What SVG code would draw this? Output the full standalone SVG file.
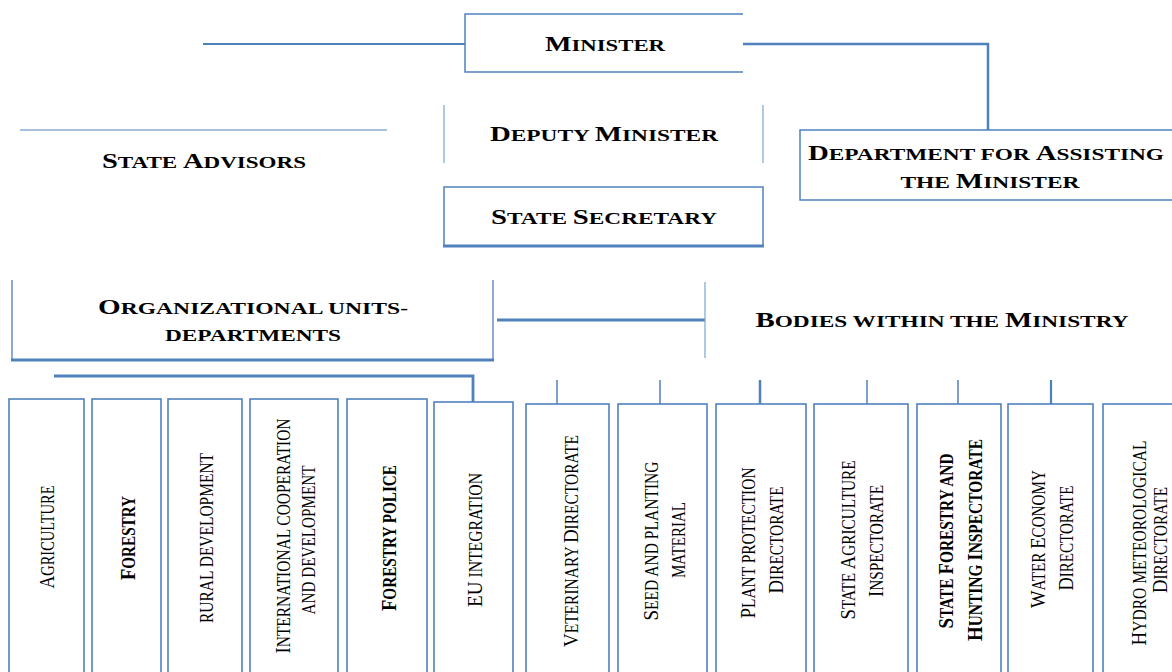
<svg xmlns="http://www.w3.org/2000/svg" width="1172" height="672" viewBox="0 0 1172 672">
<style>
  .ln{stroke:#4f81bd;stroke-width:1.5;fill:none}
  .lt{stroke:#7ea4d3;stroke-width:1.2;fill:none}
  .lk{stroke:#4f81bd;stroke-width:2.8;fill:none}
  .bx{stroke:#4f81bd;stroke-width:1.6;fill:#fff}
  text{font-family:"Liberation Serif","Times New Roman",serif;fill:#000}
  .t{font-weight:bold;font-size:21px;text-anchor:middle}
  .t .s{font-size:17px}
  .b{font-size:22px;text-anchor:middle}
  .bb{font-size:22px;font-weight:bold;text-anchor:middle}
  .s{font-size:18px;text-transform:uppercase}
</style>
<rect width="1172" height="672" fill="#fff"/>
<g id="connectors">
  <line class="ln" x1="203" y1="44" x2="465" y2="44" style="stroke-width:2"/>
  <path class="lk" d="M743 44 H988 V130" style="stroke-width:2.5"/>
  <line class="lk" x1="497" y1="320" x2="705" y2="320"/>
  <path class="lk" d="M54 376 H473 V402"/>
  <line class="ln" x1="557" y1="380" x2="557" y2="404"/>
  <line class="ln" x1="660" y1="380" x2="660" y2="404"/>
  <line class="lk" x1="760" y1="380" x2="760" y2="404" style="stroke-width:2.5"/>
  <line class="ln" x1="867" y1="380" x2="867" y2="404"/>
  <line class="ln" x1="958" y1="380" x2="958" y2="404"/>
  <line class="lk" x1="1051" y1="380" x2="1051" y2="404" style="stroke-width:2.2"/>
</g>
<g id="minister">
  <path class="ln" d="M743 14 H465 V72 H743"/>
  <text class="t" x="605" y="51" textLength="120" lengthAdjust="spacingAndGlyphs">M<tspan class="s">inister</tspan></text>
</g>
<g id="state-advisors">
  <line class="ln" x1="20" y1="130" x2="387" y2="130" style="stroke-width:1.2"/>
  <text class="t" x="204" y="168" textLength="204" lengthAdjust="spacingAndGlyphs">S<tspan class="s">tate </tspan>A<tspan class="s">dvisors</tspan></text>
</g>
<g id="deputy-minister">
  <line class="lt" x1="444" y1="105" x2="444" y2="163"/>
  <line class="lt" x1="763" y1="105" x2="763" y2="163"/>
  <text class="t" x="604" y="141" textLength="228" lengthAdjust="spacingAndGlyphs">D<tspan class="s">eputy </tspan>M<tspan class="s">inister</tspan></text>
</g>
<g id="state-secretary">
  <path class="ln" d="M444 246 V187 H763 V246"/>
  <line class="lk" x1="443" y1="246" x2="764" y2="246"/>
  <text class="t" x="604" y="224" textLength="226" lengthAdjust="spacingAndGlyphs">S<tspan class="s">tate </tspan>S<tspan class="s">ecretary</tspan></text>
</g>
<g id="department-assisting">
  <path class="ln" d="M1180 130 H800 V200 H1180"/>
  <text class="t" x="986" y="160" textLength="356" lengthAdjust="spacingAndGlyphs">D<tspan class="s">epartment for </tspan>A<tspan class="s">ssisting</tspan></text>
  <text class="t" x="990" y="188" textLength="179" lengthAdjust="spacingAndGlyphs"><tspan class="s">the </tspan>M<tspan class="s">inister</tspan></text>
</g>
<g id="organizational-units">
  <path class="lt" d="M12 280 V360 M493 280 V360" style="stroke:#6f97cc;stroke-width:1.6"/>
  <line class="lk" x1="11" y1="360" x2="494" y2="360"/>
  <text class="t" x="253" y="314" textLength="310" lengthAdjust="spacingAndGlyphs">O<tspan class="s">rganizational units-</tspan></text>
  <text class="t" x="253" y="341" textLength="176" lengthAdjust="spacingAndGlyphs"><tspan class="s">departments</tspan></text>
</g>
<g id="bodies-within-ministry">
  <line class="lt" x1="705" y1="282" x2="705" y2="358"/>
  <text class="t" x="942" y="327" textLength="373" lengthAdjust="spacingAndGlyphs">B<tspan class="s">odies within the </tspan>M<tspan class="s">inistry</tspan></text>
</g>
<g id="agriculture">
  <rect class="bx" x="9" y="399" width="75" height="300"/>
  <text class="b" transform="translate(54,537) rotate(-90)" textLength="103" lengthAdjust="spacingAndGlyphs">A<tspan class="s">griculture</tspan></text>
</g>
<g id="forestry">
  <rect class="bx" x="92" y="399" width="69" height="300"/>
  <text class="bb" transform="translate(135,538) rotate(-90)" textLength="84" lengthAdjust="spacingAndGlyphs">F<tspan class="s">orestry</tspan></text>
</g>
<g id="rural-development">
  <rect class="bx" x="168" y="399" width="74" height="300"/>
  <text class="b" transform="translate(213,538) rotate(-90)" textLength="170" lengthAdjust="spacingAndGlyphs"><tspan class="s">rural development</tspan></text>
</g>
<g id="international-cooperation">
  <rect class="bx" x="250" y="399" width="88" height="300"/>
  <text class="b" transform="translate(290,536) rotate(-90)" textLength="235" lengthAdjust="spacingAndGlyphs">I<tspan class="s">nternational cooperation</tspan></text>
  <text class="b" transform="translate(315,540) rotate(-90)" textLength="149" lengthAdjust="spacingAndGlyphs"><tspan class="s">and development</tspan></text>
</g>
<g id="forestry-police">
  <rect class="bx" x="347" y="399" width="80" height="300"/>
  <text class="bb" transform="translate(396,538) rotate(-90)" textLength="146" lengthAdjust="spacingAndGlyphs">F<tspan class="s">orestry police</tspan></text>
</g>
<g id="eu-integration">
  <rect class="bx" x="434" y="402" width="79" height="300"/>
  <text class="b" transform="translate(482,540) rotate(-90)" textLength="134" lengthAdjust="spacingAndGlyphs">EU<tspan class="s"> integration</tspan></text>
</g>
<g id="veterinary-directorate">
  <rect class="bx" x="526" y="404" width="83" height="300"/>
  <text class="b" transform="translate(578,541) rotate(-90)" textLength="212" lengthAdjust="spacingAndGlyphs">V<tspan class="s">eterinary </tspan>D<tspan class="s">irectorate</tspan></text>
</g>
<g id="seed-planting-material">
  <rect class="bx" x="618" y="404" width="89" height="300"/>
  <text class="b" transform="translate(658,541) rotate(-90)" textLength="159" lengthAdjust="spacingAndGlyphs">S<tspan class="s">eed and planting</tspan></text>
  <text class="b" transform="translate(685,540) rotate(-90)" textLength="76" lengthAdjust="spacingAndGlyphs"><tspan class="s">material</tspan></text>
</g>
<g id="plant-protection-directorate">
  <rect class="bx" x="716" y="404" width="90" height="300"/>
  <text class="b" transform="translate(755,543) rotate(-90)" textLength="151" lengthAdjust="spacingAndGlyphs">P<tspan class="s">lant protection</tspan></text>
  <text class="b" transform="translate(783,540) rotate(-90)" textLength="107" lengthAdjust="spacingAndGlyphs">D<tspan class="s">irectorate</tspan></text>
</g>
<g id="state-agriculture-inspectorate">
  <rect class="bx" x="814" y="404" width="94" height="300"/>
  <text class="b" transform="translate(855,540) rotate(-90)" textLength="159" lengthAdjust="spacingAndGlyphs">S<tspan class="s">tate </tspan>A<tspan class="s">griculture</tspan></text>
  <text class="b" transform="translate(883,541) rotate(-90)" textLength="112" lengthAdjust="spacingAndGlyphs">I<tspan class="s">nspectorate</tspan></text>
</g>
<g id="state-forestry-hunting-inspectorate">
  <rect class="bx" x="917" y="404" width="84" height="300"/>
  <text class="bb" transform="translate(953,541) rotate(-90)" textLength="175" lengthAdjust="spacingAndGlyphs">S<tspan class="s">tate </tspan>F<tspan class="s">orestry and</tspan></text>
  <text class="bb" transform="translate(982,540) rotate(-90)" textLength="202" lengthAdjust="spacingAndGlyphs">H<tspan class="s">unting </tspan>I<tspan class="s">nspectorate</tspan></text>
</g>
<g id="water-economy-directorate">
  <rect class="bx" x="1008" y="404" width="85" height="300"/>
  <text class="b" transform="translate(1045,539) rotate(-90)" textLength="138" lengthAdjust="spacingAndGlyphs">W<tspan class="s">ater </tspan>E<tspan class="s">conomy</tspan></text>
  <text class="b" transform="translate(1073,538) rotate(-90)" textLength="105" lengthAdjust="spacingAndGlyphs">D<tspan class="s">irectorate</tspan></text>
</g>
<g id="hydro-meteorological-directorate">
  <rect class="bx" x="1103" y="404" width="80" height="300"/>
  <text class="b" transform="translate(1146,543) rotate(-90)" textLength="205" lengthAdjust="spacingAndGlyphs">H<tspan class="s">ydro meteorological</tspan></text>
  <text class="b" transform="translate(1167,540) rotate(-90)" textLength="106" lengthAdjust="spacingAndGlyphs">D<tspan class="s">irectorate</tspan></text>
</g>
</svg>
